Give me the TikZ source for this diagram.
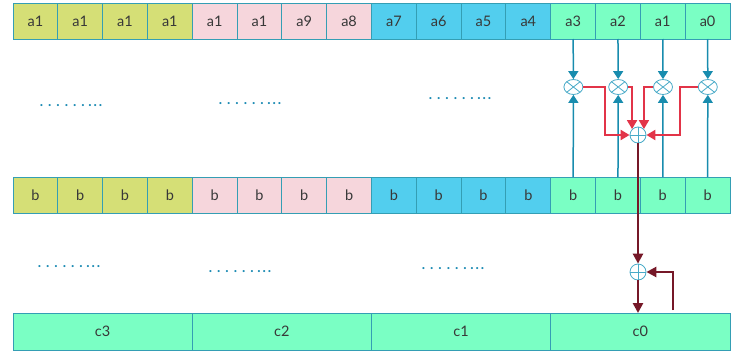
\documentclass[tikz,border=0pt]{standalone}
\usepackage{fontspec}
\setmainfont{Lato}
\usetikzlibrary{arrows.meta,calc,shapes.geometric}
\definecolor{cyel}{RGB}{213,223,118}
\definecolor{cpink}{RGB}{246,214,220}
\definecolor{cblue}{RGB}{82,206,238}
\definecolor{cgreen}{RGB}{122,255,196}
\definecolor{cedge}{RGB}{52,158,180}
\definecolor{ctext}{RGB}{56,56,56}
\definecolor{carrow}{RGB}{24,140,174}
\definecolor{cred}{RGB}{226,52,72}
\definecolor{cdark}{RGB}{118,24,40}
\definecolor{ccirc}{RGB}{72,170,200}
\definecolor{cdots}{RGB}{30,140,180}
\newcommand{\dotrow}{.\kern5pt.\kern5pt.\kern5pt.\kern5pt.\kern5pt.\kern3.5pt.\kern2pt.\kern2pt.}
\begin{document}
\begin{tikzpicture}[x=1pt,y=-1pt,
  cell/.style={draw=cedge, line width=0.9pt, minimum width=44.81pt, minimum height=36pt,
    inner sep=0pt, outer sep=0pt, font=\fontsize{14.5}{14.5}\selectfont, text=ctext},
  ccell/.style={cell, minimum width=179.25pt, minimum height=37pt, fill=cgreen},
  mult/.style={ellipse, draw=ccirc, fill=white, line width=0.8pt, minimum width=19pt,
    minimum height=15pt, inner sep=0pt,
    path picture={\draw[ccirc, line width=0.8pt]
      (path picture bounding box.north west) -- (path picture bounding box.south east)
      (path picture bounding box.south west) -- (path picture bounding box.north east);}},
  adder/.style={circle, draw=ccirc, fill=white, line width=0.8pt, minimum size=16pt,
    inner sep=0pt,
    path picture={\draw[ccirc, line width=0.8pt]
      (path picture bounding box.north) -- (path picture bounding box.south)
      (path picture bounding box.west) -- (path picture bounding box.east);}},
  barrow/.style={draw=carrow, line width=1.5pt, -{Triangle[width=10pt,length=8pt]}},
  rarrow/.style={draw=cred, line width=2pt, -{Triangle[width=10pt,length=9pt]}},
  darrow/.style={draw=cdark, line width=2.8pt, -{Triangle[width=10pt,length=10pt]}},
  dots/.style={text=cdots, font=\bfseries\fontsize{14}{14}\selectfont, inner sep=0pt}
]
\useasboundingbox (0,0) rectangle (734,351);
% top row
\foreach \i/\lab/\col in {0/a1/cyel,1/a1/cyel,2/a1/cyel,3/a1/cyel,
  4/a1/cpink,5/a1/cpink,6/a9/cpink,7/a8/cpink,
  8/a7/cblue,9/a6/cblue,10/a5/cblue,11/a4/cblue,
  12/a3/cgreen,13/a2/cgreen,14/a1/cgreen,15/a0/cgreen}
  \node[cell, fill=\col] (t\i) at ({13+44.8125*(\i+0.5)},21) {\lab};
% b row
\foreach \i/\col in {0/cyel,1/cyel,2/cyel,3/cyel,4/cpink,5/cpink,6/cpink,7/cpink,
  8/cblue,9/cblue,10/cblue,11/cblue,12/cgreen,13/cgreen,14/cgreen,15/cgreen}
  \node[cell, fill=\col] (b\i) at ({13+44.8125*(\i+0.5)},195) {b};
% c row
\node[ccell] (cc3) at (102.6,331.5) {c3};
\node[ccell] (cc2) at (281.9,331.5) {c2};
\node[ccell] (cc1) at (461.1,331.5) {c1};
\node[ccell] (cc0) at (640.4,331.5) {c0};
% multipliers and adders
\node[mult] (m3) at (573.4,87) {};
\node[mult] (m2) at (618.2,87) {};
\node[mult] (m1) at (663.0,87) {};
\node[mult] (m0) at (707.8,87) {};
\node[adder] (s) at (638,135) {};
\node[adder] (s2) at (638,272) {};
% dots
\node[dots] (d1) at (71,106) {\dotrow};
\node[dots] (d2) at (250,104) {\dotrow};
\node[dots] (d3) at (460,99) {\dotrow};
\node[dots] (d4) at (69,267) {\dotrow};
\node[dots] (d5) at (240,272) {\dotrow};
\node[dots] (d6) at (453,269) {\dotrow};
% blue arrows
\foreach \i/\m in {12/m3,13/m2,14/m1,15/m0}{
  \draw[barrow] (t\i.south) -- (\m.north);
  \draw[barrow] (b\i.north) -- (\m.south);
}
% red arrows
\draw[rarrow] (m3.east) -- (605,87) |- (s.west);
\draw[rarrow] (m2.east) -| (s.north west);
\draw[rarrow] (m1.west) -| (s.north east);
\draw[rarrow] (m0.west) -- (680,87) |- (s.east);
% dark red
\draw[darrow] (s.south) -- (s2.north);
\draw[darrow] (s2.south) -- (s2.south |- cc0.north);
\coordinate (fb) at (673,310);
\draw[darrow] (fb) |- (s2.east);
\end{tikzpicture}
\end{document}
